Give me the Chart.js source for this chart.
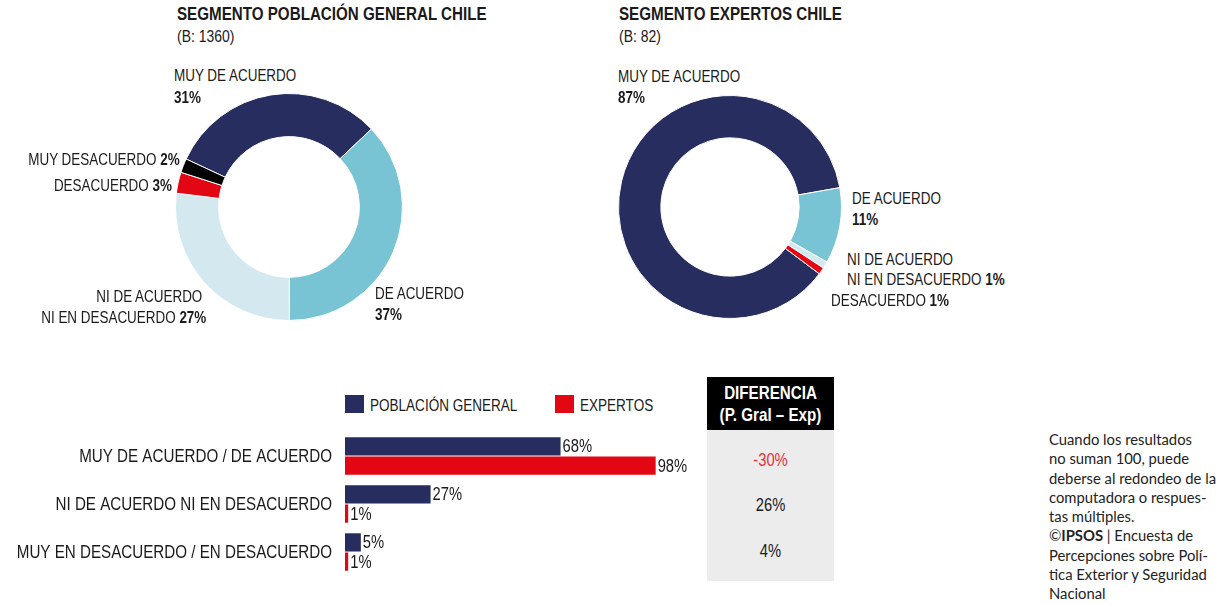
<!DOCTYPE html>
<html lang="es">
<head>
<meta charset="utf-8">
<title>Segmento Población General vs Expertos Chile</title>
<script src="https://cdn.jsdelivr.net/npm/chart.js@4.4.1/dist/chart.umd.min.js"></script>
<style>
    body { margin:0; width:1223px; height:605px; background:#fff; position:relative; overflow:hidden;
           font-family:"Liberation Sans",Arial,sans-serif; color:#1a1a1a; }
    .abs { position:absolute; white-space:nowrap; }
    /* Arial Narrow ~ Arial comprimida al 82% */
    .izq { transform:scaleX(0.82); transform-origin:left center; }
    .der { transform:scaleX(0.82); transform-origin:right center; text-align:right; }
    .cen { transform:scaleX(0.82); transform-origin:center center; text-align:center; }
    .titulo { font-weight:bold; font-size:18.5px; line-height:22px; }
    .base { font-size:17px; line-height:22px; }
    .etq { font-size:16.4px; line-height:20px; }
    .caja { width:19px; height:18px; }
    .nota { font-family:Lato,"Open Sans",sans-serif; font-size:14.8px; line-height:19.3px; color:#222; }
</style>
</head>
<body>

<div class="abs titulo izq" style="left:177px; top:3px;">SEGMENTO POBLACIÓN GENERAL CHILE</div>
<div class="abs base izq" style="left:177px; top:26px;">(B: 1360)</div>
<div class="abs titulo izq" style="left:619px; top:3px;">SEGMENTO EXPERTOS CHILE</div>
<div class="abs base izq" style="left:619px; top:26px;">(B: 82)</div>

<div class="abs" style="left:175px; top:93px;"><canvas id="dona-poblacion" width="228" height="228"></canvas></div>
<div class="abs" style="left:618px; top:95px;"><canvas id="dona-expertos" width="224" height="224"></canvas></div>
<div id="etiquetas"></div>

<!-- leyenda barras -->
<div class="abs caja" style="left:345px; top:395px; background:#272d5e;"></div>
<div class="abs etq izq" style="left:370px; top:395px; font-size:16.5px;">POBLACIÓN GENERAL</div>
<div class="abs caja" style="left:555px; top:395px; background:#e30613;"></div>
<div class="abs etq izq" style="left:580px; top:395px; font-size:16.5px;">EXPERTOS</div>

<div class="abs" style="left:0; top:432px;"><canvas id="chart-barras" width="720" height="144"></canvas></div>

<!-- tabla diferencia -->
<div class="abs" style="left:707px; top:377px; width:127px; height:53px; background:#000;"></div>
<div class="abs cen" style="left:707px; top:382px; width:127px; color:#fff; font-weight:bold; font-size:18.5px; line-height:22px;">
    DIFERENCIA<br>(P. Gral – Exp)
</div>
<div class="abs" style="left:707px; top:430px; width:127px; height:151px; background:#ececec;"></div>
<div id="diferencias"></div>

<div class="abs nota" style="left:1049px; top:430px;">
Cuando los resultados<br>no suman 100, puede<br>deberse al redondeo de la<br>computadora o respues-<br>tas múltiples.<br>©<b>IPSOS</b> | Encuesta de<br>Percepciones sobre Polí-<br>tica Exterior y Seguridad<br>Nacional
</div>

<script>
// datos donas
const categoriasDona = ['MUY DE ACUERDO', 'DE ACUERDO', 'NI DE ACUERDO NI EN DESACUERDO', 'DESACUERDO', 'MUY DESACUERDO'];
const poblacionDona = [31, 37, 27, 3, 2];
const expertosDona = [87, 11, 1, 1, 0];

// datos barras
const categoriasBarra = ['MUY DE ACUERDO / DE ACUERDO', 'NI DE ACUERDO NI EN DESACUERDO', 'MUY EN DESACUERDO / EN DESACUERDO'];
const poblacionBarra = [68, 27, 5];
const expertosBarra = [98, 1, 1];
const diferencia = [-30, 26, 4];

const FUENTE = '"Liberation Sans", Arial, sans-serif';
const ANGOSTA = 0.82;
const coloresDona = ['#272d5e', '#78c4d4', '#d3e9ef', '#e30613', '#000000'];
const AZUL = '#272d5e';
const ROJO = '#e30613';

function crearDona(id, datos, rotacion) {
    new Chart(document.getElementById(id).getContext('2d'), {
        type: 'doughnut',
        data: {
            labels: categoriasDona,
            datasets: [{
                data: datos,
                backgroundColor: coloresDona,
                borderColor: '#ffffff',
                borderWidth: 1
            }]
        },
        options: {
            responsive: false,
            animation: false,
            events: [],
            cutout: '62%',
            rotation: rotacion,
            plugins: { legend: { display: false }, tooltip: { enabled: false } }
        }
    });
}

crearDona('dona-poblacion', poblacionDona, -65);
crearDona('dona-expertos', expertosDona, 126.8);

// etiquetas de las donas
function etiqueta(html, x, y, derecha) {
    const div = document.createElement('div');
    div.className = 'abs etq ' + (derecha ? 'der' : 'izq');
    if (derecha) div.style.right = (1223 - x) + 'px';
    else div.style.left = x + 'px';
    div.style.top = (y - 10) + 'px';
    div.innerHTML = html;
    document.getElementById('etiquetas').appendChild(div);
}
const pct = v => '<b>' + v + '%</b>';

// población general
etiqueta(categoriasDona[0], 174, 75);
etiqueta(pct(poblacionDona[0]), 174, 97);
etiqueta(categoriasDona[4] + ' ' + pct(poblacionDona[4]), 180, 159, true);
etiqueta(categoriasDona[3] + ' ' + pct(poblacionDona[3]), 172, 185, true);
etiqueta('NI DE ACUERDO', 202, 296, true);
etiqueta('NI EN DESACUERDO ' + pct(poblacionDona[2]), 206, 317, true);
etiqueta(categoriasDona[1], 375, 293);
etiqueta(pct(poblacionDona[1]), 375, 314);

// expertos
etiqueta(categoriasDona[0], 618, 76);
etiqueta(pct(expertosDona[0]), 618, 97);
etiqueta(categoriasDona[1], 852, 198);
etiqueta(pct(expertosDona[1]), 852, 219);
etiqueta('NI DE ACUERDO', 847, 259);
etiqueta('NI EN DESACUERDO ' + pct(expertosDona[2]), 847, 279);
etiqueta(categoriasDona[3] + ' ' + pct(expertosDona[3]), 831, 300);

// textos del gráfico de barras: categorías a la izquierda y valores al final de cada barra
const textosBarras = {
    id: 'textosBarras',
    afterDatasetsDraw(chart) {
        const ctx = chart.ctx;
        const escalaY = chart.scales.y;
        ctx.save();
        ctx.scale(ANGOSTA, 1);
        ctx.font = '18.5px ' + FUENTE;
        ctx.fillStyle = '#1a1a1a';
        ctx.textBaseline = 'middle';
        ctx.textAlign = 'right';
        chart.data.labels.forEach((lab, i) => {
            ctx.fillText(lab, (escalaY.right - 13) / ANGOSTA, escalaY.getPixelForTick(i) + 1);
        });
        ctx.font = '18px ' + FUENTE;
        ctx.textAlign = 'left';
        chart.data.datasets.forEach((ds, i) => {
            chart.getDatasetMeta(i).data.forEach((barra, j) => {
                ctx.fillText(ds.data[j] + '%', (barra.x + 2) / ANGOSTA, barra.y + 1);
            });
        });
        ctx.restore();
    }
};

new Chart(document.getElementById('chart-barras').getContext('2d'), {
    type: 'bar',
    data: {
        labels: categoriasBarra,
        datasets: [
            { label: 'POBLACIÓN GENERAL', data: poblacionBarra, backgroundColor: AZUL },
            { label: 'EXPERTOS', data: expertosBarra, backgroundColor: ROJO }
        ]
    },
    options: {
        indexAxis: 'y',
        responsive: false,
        animation: false,
        events: [],
        layout: { padding: { right: 58 } },
        datasets: { bar: { categoryPercentage: 0.8, barPercentage: 0.95 } },
        scales: {
            x: { min: 0, max: 100, display: false },
            y: {
                afterFit: scale => { scale.width = 345; },
                grid: { display: false, drawTicks: false },
                border: { display: false },
                ticks: { display: false }
            }
        },
        plugins: { legend: { display: false }, tooltip: { enabled: false } }
    },
    plugins: [textosBarras]
});

// columna diferencia
const yDiferencia = [460, 505, 551];
diferencia.forEach((v, i) => {
    const div = document.createElement('div');
    div.className = 'abs cen';
    div.style.cssText += 'left:707px; width:127px; font-size:18px; line-height:22px;';
    div.style.top = (yDiferencia[i] - 11) + 'px';
    div.style.color = v < 0 ? '#e8303a' : '#1a1a1a';
    div.textContent = v + '%';
    document.getElementById('diferencias').appendChild(div);
});
</script>
</body>
</html>
